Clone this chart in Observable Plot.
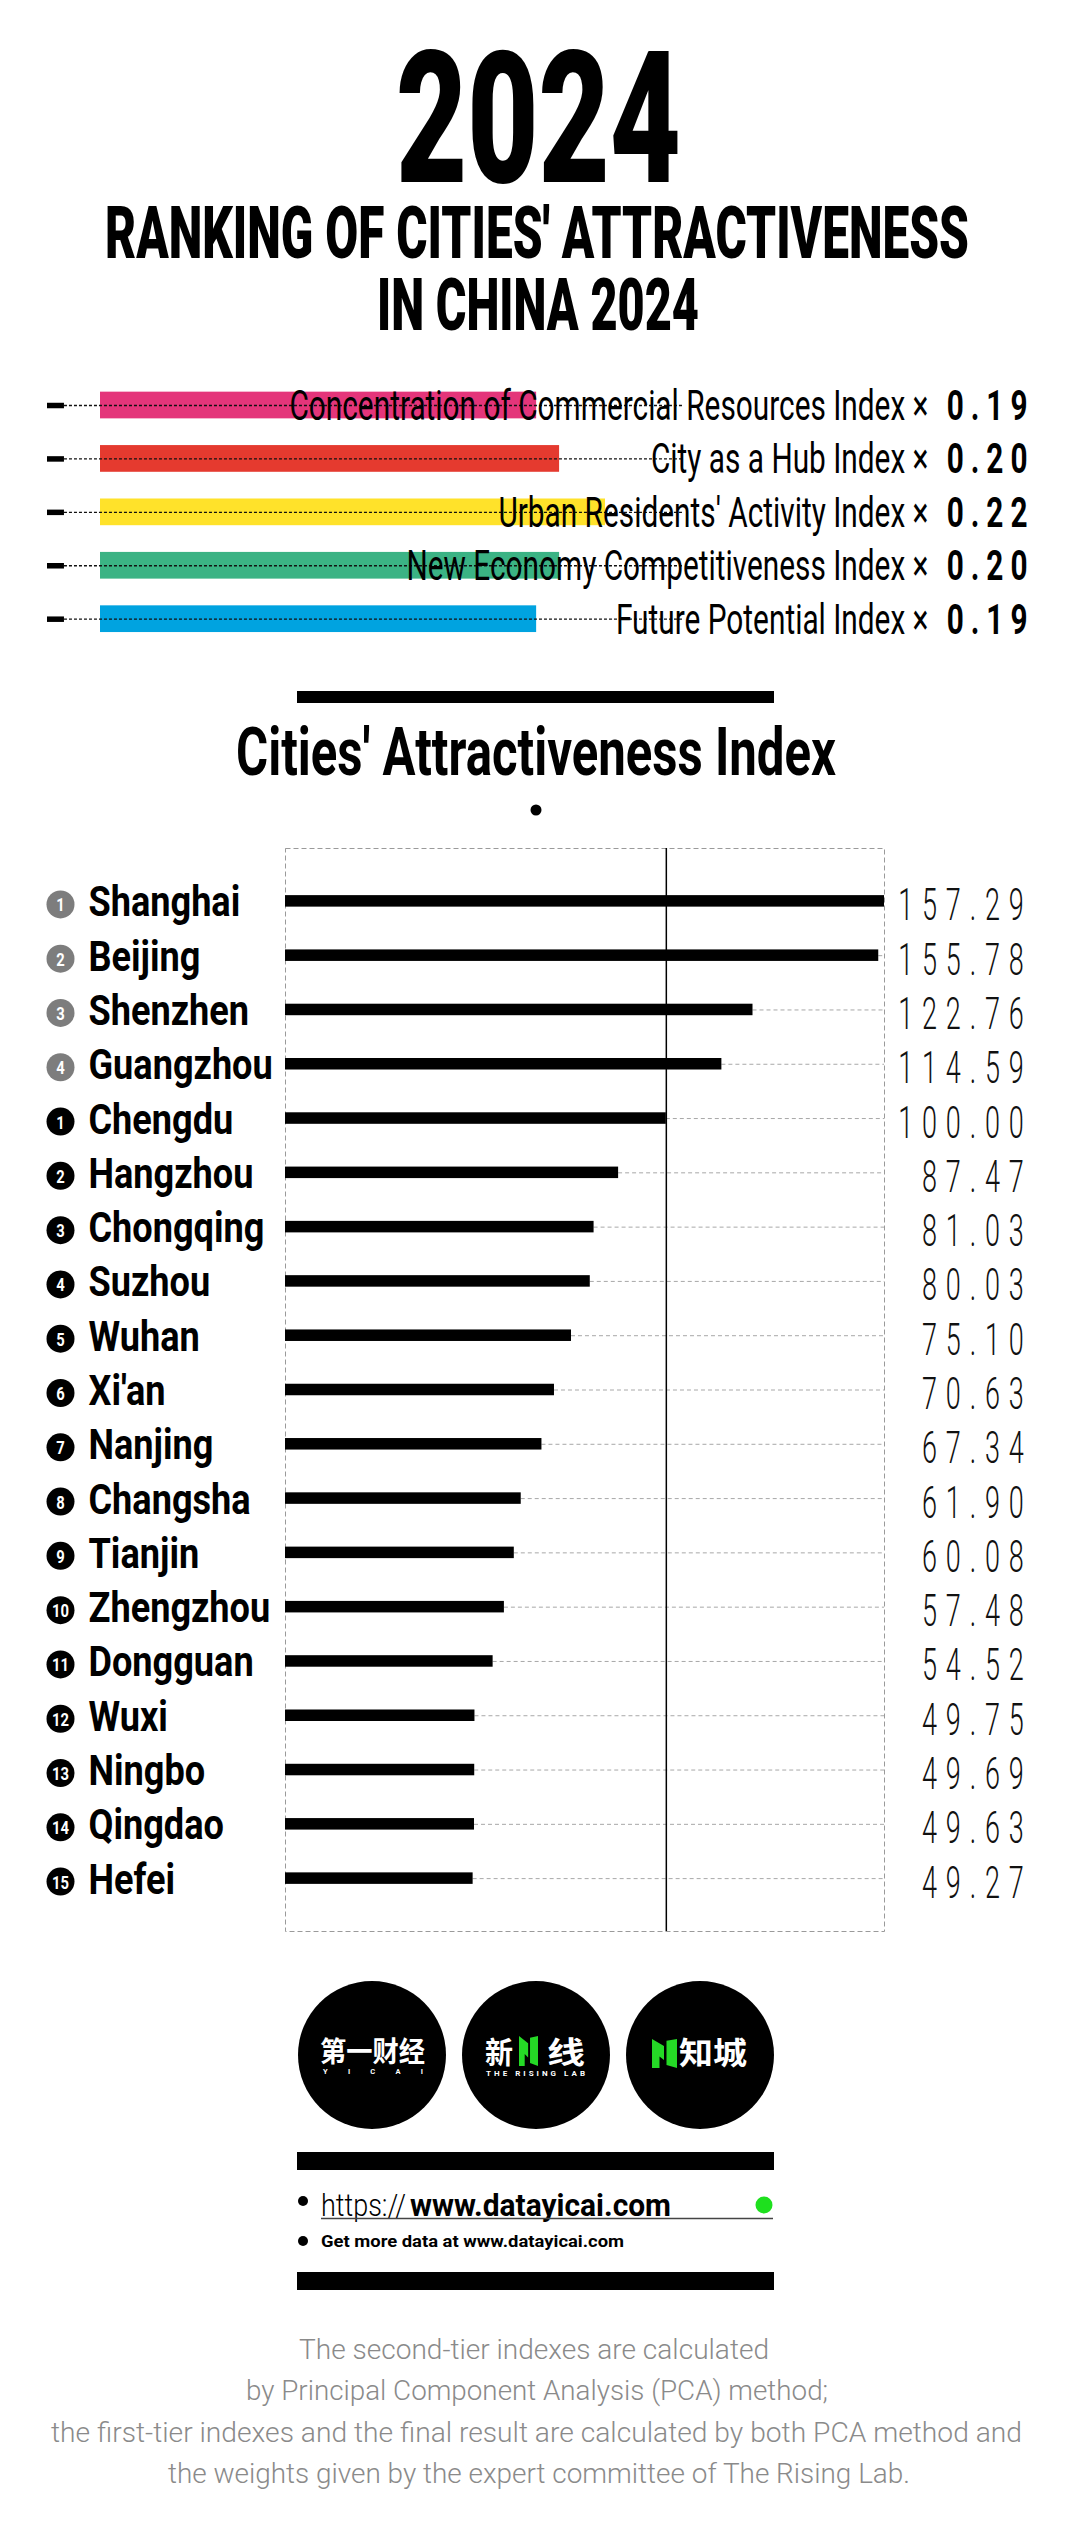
<!DOCTYPE html>
<html>
<head>
<meta charset="utf-8">
<script src="https://cdn.jsdelivr.net/npm/d3@7"></script>
<script src="https://cdn.jsdelivr.net/npm/@observablehq/plot@0.6"></script>
<style>
  html, body { margin: 0; padding: 0; background: #fff; }
  #page { position: relative; width: 1072px; height: 2532px; overflow: hidden; background: #fff; }
</style>
</head>
<body>
<div id="page"></div>
<script>
// ---------------- DATA ----------------
const indexNames = [
  "Concentration of Commercial Resources Index",
  "City as a Hub Index",
  "Urban Residents' Activity Index",
  "New Economy Competitiveness Index",
  "Future Potential Index"
];
const indexWeights = [0.19, 0.20, 0.22, 0.20, 0.19];
const indexColors = ["#e4357a", "#e53a2f", "#ffe22a", "#3bb384", "#00a3e0"];

const cities = ["Shanghai", "Beijing", "Shenzhen", "Guangzhou", "Chengdu", "Hangzhou", "Chongqing",
  "Suzhou", "Wuhan", "Xi'an", "Nanjing", "Changsha", "Tianjin", "Zhengzhou", "Dongguan",
  "Wuxi", "Ningbo", "Qingdao", "Hefei"];
const scores = [157.29, 155.78, 122.76, 114.59, 100.00, 87.47, 81.03, 80.03, 75.10, 70.63,
  67.34, 61.90, 60.08, 57.48, 54.52, 49.75, 49.69, 49.63, 49.27];
const ranks = [1, 2, 3, 4, 1, 2, 3, 4, 5, 6, 7, 8, 9, 10, 11, 12, 13, 14, 15];
const tierNames = ["First-tier", "New first-tier"];
const tiers = [0,0,0,0,1,1,1,1,1,1,1,1,1,1,1,1,1,1,1].map(i => tierNames[i]);
const tierColors = ["#7d7d7d", "#000000"];
const benchmark = [100];

const mainTitle = "2024";
const subtitleLines = ["RANKING OF CITIES' ATTRACTIVENESS", "IN CHINA 2024"];
const chartTitle = "Cities' Attractiveness Index";
const urlPrefix = "https://";
const urlMain = "www.datayicai.com";
const moreData = "Get more data at www.datayicai.com";
const captionLines = [
  "The second-tier indexes are calculated",
  "by Principal Component Analysis (PCA) method;",
  "the first-tier indexes and the final result are calculated by both PCA method and",
  "the weights given by the expert committee of The Rising Lab."
];

// ---------------- HELPERS ----------------
const FONT = 'Roboto, "Noto Sans", "DejaVu Sans", sans-serif';
const CJK = '"Noto Sans CJK SC", "Noto Sans CJK JP", sans-serif';
const page = document.getElementById("page");

function place(el, top) {
  el.style.position = "absolute";
  el.style.left = "0px";
  el.style.top = top + "px";
  page.appendChild(el);
  return el;
}

// horizontally condense text marks (the original uses a condensed DIN face)
function condense(svg, rules) {
  svg.querySelectorAll("text").forEach(t => {
    const fs = parseFloat(getComputedStyle(t).fontSize);
    const r = rules.find(q => Math.abs(q.fs - fs) < 0.05);
    if (!r) return;
    if (r.ls) t.style.letterSpacing = r.ls + "px";
    let tr = t.getAttribute("transform") || "";
    const xa = t.getAttribute("x"), ya = t.getAttribute("y");
    let tx = 0, ty = 0;
    if (xa && !/em$/.test(xa)) { tx = parseFloat(xa) || 0; t.removeAttribute("x"); }
    if (ya && !/em$/.test(ya)) { ty = parseFloat(ya) || 0; t.removeAttribute("y"); }
    if (tx || ty) tr += ` translate(${tx},${ty})`;
    t.setAttribute("transform", tr + ` scale(${r.sx},1)`);
  });
}

// ---------------- WEIGHTS CHART ----------------
const weightRows = indexNames.map((name, i) => ({name, weight: indexWeights[i]}));

const weightsPlot = Plot.plot({
  width: 1072,
  height: 290,
  marginTop: 0, marginBottom: 0, marginLeft: 0, marginRight: 38,
  style: {background: "transparent", overflow: "visible"},
  x: {domain: [0, 0.22], range: [100, 605], axis: null},
  y: {domain: indexNames, range: [8.3, 275.4], paddingInner: 0.5, paddingOuter: 0.25, round: false, axis: null},
  color: {type: "ordinal", domain: indexNames, range: indexColors},
  marks: [
    Plot.barX(weightRows, {y: "name", x: "weight", fill: "name"}),
    Plot.ruleY(weightRows, {y: "name", x1: () => -0.0157, x2: () => 0.254, stroke: "#111", strokeWidth: 1.3, strokeDasharray: "3,2"}),
    Plot.ruleY(weightRows, {y: "name", x1: () => -0.0231, x2: () => -0.0157, stroke: "#000", strokeWidth: 5.5}),
    Plot.text(weightRows, {y: "name", text: d => d.name + " \u00d7", frameAnchor: "right", dx: -106, dy: 14.5,
      lineAnchor: "bottom", textAnchor: "end", fontSize: 42, fontWeight: 400, fontFamily: FONT, fill: "#000"}),
    Plot.text(weightRows, {y: "name", text: d => d.weight.toFixed(2), frameAnchor: "right", dy: 14.5,
      lineAnchor: "bottom", textAnchor: "end", fontSize: 42.5, fontWeight: 700, fontFamily: FONT, fill: "#000"})
  ]
});
place(weightsPlot, 370);
condense(weightsPlot, [{fs: 42, sx: 0.71}, {fs: 42.5, sx: 0.7, ls: 10}]);

// ---------------- MAIN CHART ----------------
const rows = cities.map((city, i) => ({city, score: scores[i], rank: ranks[i], tier: tiers[i]}));
const maxScore = d3.max(scores);

const mainPlot = Plot.plot({
  width: 1072,
  height: 1121,
  marginTop: 18, marginBottom: 20, marginLeft: 285, marginRight: 188,
  style: {background: "transparent", overflow: "visible"},
  x: {domain: [0, maxScore], axis: null},
  y: {domain: cities, paddingInner: 0.788, paddingOuter: 0.868, round: false, axis: null},
  color: {type: "ordinal", domain: tierNames, range: tierColors},
  marks: [
    Plot.frame({stroke: "#9a9a9a", strokeDasharray: "5,3"}),
    Plot.ruleY(rows, {y: "city", x1: "score", x2: () => maxScore, stroke: "#a8a8a8", strokeDasharray: "4,3"}),
    Plot.barX(rows, {y: "city", x: "score", fill: "#000"}),
    Plot.ruleX(benchmark, {stroke: "#000", strokeWidth: 1.5}),
    Plot.dot(rows, {y: "city", frameAnchor: "left", dx: -225, dy: 3, r: 14, fill: "tier", stroke: null}),
    Plot.text(rows, {y: "city", text: d => String(d.rank), frameAnchor: "left", dx: -225, dy: 10,
      lineAnchor: "bottom", textAnchor: "middle", fontSize: 19, fontWeight: 700, fontFamily: FONT, fill: "#fff"}),
    Plot.text(rows, {y: "city", text: "city", frameAnchor: "left", dx: -197, dy: 15,
      lineAnchor: "bottom", textAnchor: "start", fontSize: 42, fontWeight: 700, fontFamily: FONT, fill: "#000"}),
    Plot.text(rows, {y: "city", text: d => d.score.toFixed(2), frameAnchor: "right", dx: 148, dy: 19,
      lineAnchor: "bottom", textAnchor: "end", fontSize: 43.6, fontWeight: 300, fontFamily: FONT, fill: "#111"})
  ]
});
place(mainPlot, 830);
condense(mainPlot, [{fs: 42, sx: 0.86}, {fs: 43.6, sx: 0.62, ls: 14.2}, {fs: 19, sx: 0.78}]);

// ---------------- STATIC TEXT & DECORATION ----------------
const ov = d3.select(page).append("svg")
  .attr("width", 1072).attr("height", 2532)
  .style("position", "absolute").style("left", "0px").style("top", "0px");

function T(x, y, text, size, len, o = {}) {
  const t = ov.append("text")
    .attr("x", x).attr("y", y)
    .attr("font-family", o.family || FONT)
    .attr("font-size", size)
    .attr("font-weight", o.weight || 700)
    .attr("fill", o.fill || "#000")
    .text(text);
  if (len) t.attr("textLength", len).attr("lengthAdjust", o.adjust || "spacingAndGlyphs");
  return t;
}
function R(x, y, w, h, fill = "#000") {
  ov.append("rect").attr("x", x).attr("y", y).attr("width", w).attr("height", h).attr("fill", fill);
}
function C(cx, cy, r, fill = "#000") {
  ov.append("circle").attr("cx", cx).attr("cy", cy).attr("r", r).attr("fill", fill);
}
function greenMark(x0, y0, w, h) {
  const g = "#25d926";
  ov.append("path").attr("fill", g).attr("d",
    `M${x0},${y0} L${x0 + 0.48 * w},${y0 + 0.24 * h} L${x0 + 0.48 * w},${y0 + 0.72 * h} L${x0 + 0.3 * w},${y0 + 0.6 * h} L${x0 + 0.3 * w},${y0 + h} L${x0},${y0 + h} Z`);
  ov.append("path").attr("fill", g).attr("d",
    `M${x0 + 0.58 * w},${y0 + 0.06 * h} L${x0 + w},${y0} L${x0 + w},${y0 + h} L${x0 + 0.58 * w},${y0 + 0.9 * h} Z`);
}

// Titles
T(396, 182, mainTitle, 183, 285, {weight: 900});
T(105, 257.7, subtitleLines[0], 72, 864, {weight: 900});
T(377, 330, subtitleLines[1], 72, 322, {weight: 900});

// Chart header
R(297, 691, 477, 12);
T(236, 775, chartTitle, 66, 600, {weight: 700});
C(536, 810, 5.5);

// Logos
C(372, 2055, 74); C(536, 2055, 74); C(700, 2055, 74);
T(320, 2062, "第一财经", 28, 105, {family: CJK, fill: "#fff", weight: 700});
T(323, 2074, "YICAI", 7.5, 100, {fill: "#fff", weight: 700, adjust: "spacing"});
T(485, 2063, "新", 30, 28, {family: CJK, fill: "#fff", weight: 700});
greenMark(519, 2036, 19, 30);
T(547, 2063, "线", 30, 38, {family: CJK, fill: "#fff", weight: 700});
T(486, 2076, "THE RISING LAB", 8, 99, {fill: "#fff", weight: 700, adjust: "spacing"});
greenMark(652, 2039, 25, 29);
T(679, 2064, "知城", 31, 68, {family: CJK, fill: "#fff", weight: 700});

// Link block
R(297, 2152, 477, 18);
C(303, 2201, 5);
T(321, 2216, urlPrefix, 32, 85, {weight: 300});
T(410, 2216, urlMain, 32, 261, {weight: 700});
ov.append("line").attr("x1", 321).attr("x2", 773).attr("y1", 2218.5).attr("y2", 2218.5)
  .attr("stroke", "#444").attr("stroke-width", 1.5);
C(764, 2205, 8.5, "#1ee01e");
C(303, 2241, 5);
T(321, 2247.3, moreData, 16, 303, {weight: 700});
R(297, 2272, 477, 18);

// Caption
const capX = [299, 246, 51, 168], capLen = [470, 582, 971, 742], capY = [2359, 2400, 2441.7, 2483];
captionLines.forEach((line, i) => T(capX[i], capY[i], line, 28, capLen[i], {weight: 300, fill: "#8a8a8a"}));
</script>
</body>
</html>
